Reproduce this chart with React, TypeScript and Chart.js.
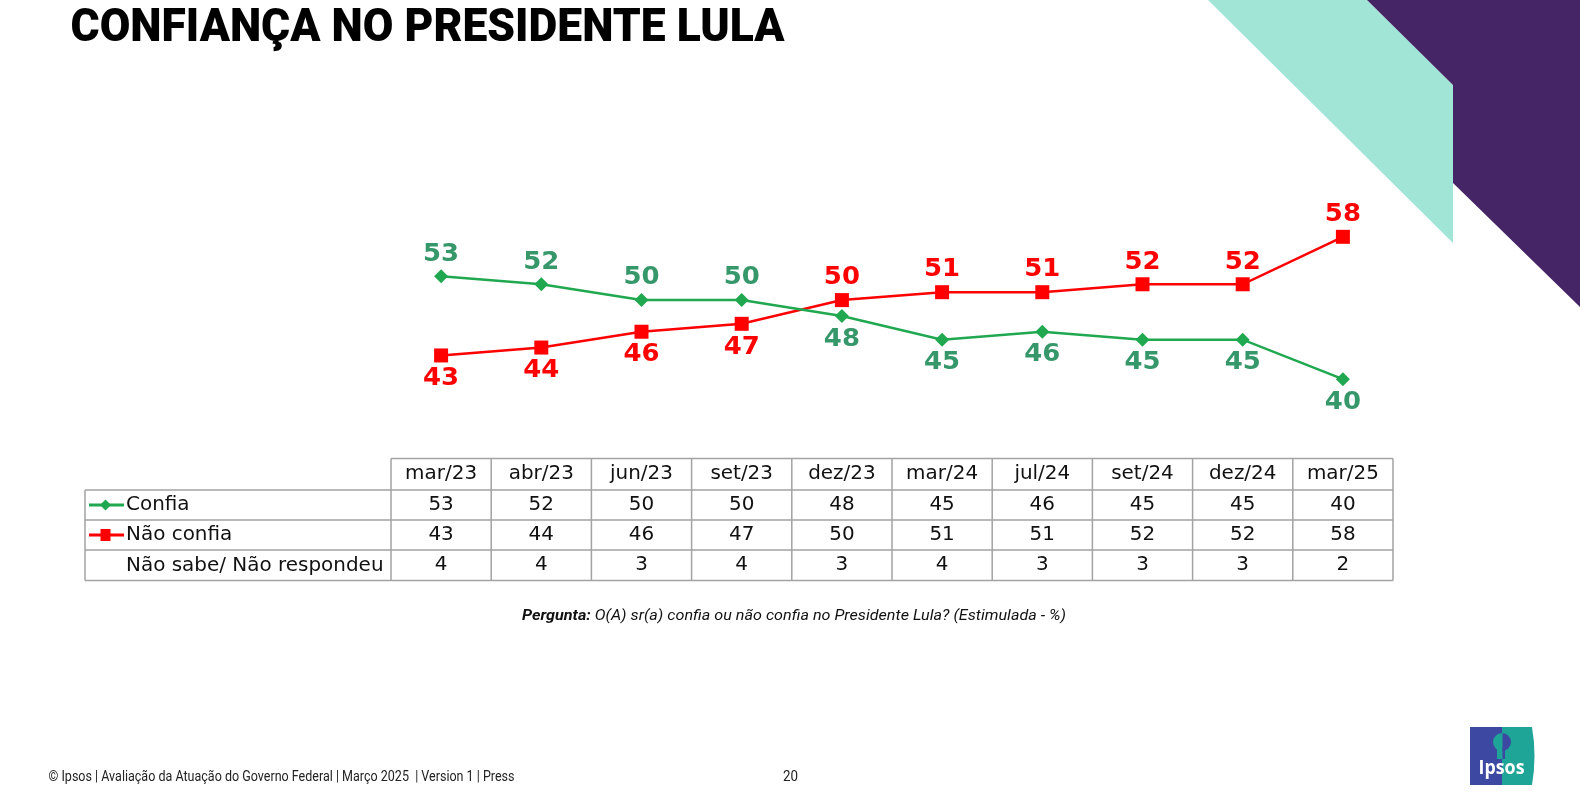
import React, { useEffect, useRef } from "react";
import { Chart, registerables } from "chart.js";

Chart.register(...registerables);

const months = ["mar/23", "abr/23", "jun/23", "set/23", "dez/23", "mar/24", "jul/24", "set/24", "dez/24", "mar/25"];
const confia = [53, 52, 50, 50, 48, 45, 46, 45, 45, 40];
const naoConfia = [43, 44, 46, 47, 50, 51, 51, 52, 52, 58];
const naoSabe = [4, 4, 3, 4, 3, 4, 3, 3, 3, 2];
const seriesNames = ["Confia", "Não confia", "Não sabe/ Não respondeu"];

const titleText = "CONFIANÇA NO PRESIDENTE LULA";
const questionBold = "Pergunta:";
const questionRest = " O(A) sr(a) confia ou não confia no Presidente Lula? (Estimulada - %)";
const footerText = "© Ipsos | Avaliação da Atuação do Governo Federal | Março 2025  | Version 1 | Press";
const pageNumber = "20";

const GREEN_LINE = "#1fa84f";
const GREEN_LABEL = "#35976a";
const RED = "#ff0000";
const W = 1580;
const H = 807;

function fitText(ctx: CanvasRenderingContext2D, text: string, x: number, y: number, width: number) {
  const w = ctx.measureText(text).width;
  const s = width / w;
  ctx.save();
  ctx.translate(x, y);
  ctx.scale(s, 1);
  ctx.textAlign = "left";
  ctx.fillText(text, 0, 0);
  ctx.restore();
}

function scaledText(ctx: CanvasRenderingContext2D, text: string, x: number, y: number, sx: number, align: "left" | "center") {
  ctx.save();
  ctx.translate(x, y);
  ctx.scale(sx, 1);
  ctx.textAlign = align;
  ctx.fillText(text, 0, 0);
  ctx.restore();
}

const pagePlugin = {
  id: "page",
  beforeDraw(chart: any) {
    const ctx: CanvasRenderingContext2D = chart.ctx;
    ctx.save();
    ctx.fillStyle = "#ffffff";
    ctx.fillRect(0, 0, W, H);
    // mint band
    ctx.fillStyle = "#a1e5d7";
    ctx.beginPath();
    ctx.moveTo(1208, 0);
    ctx.lineTo(1367, 0);
    ctx.lineTo(1453, 85);
    ctx.lineTo(1453, 243);
    ctx.closePath();
    ctx.fill();
    // purple shape
    ctx.fillStyle = "#462567";
    ctx.beginPath();
    ctx.moveTo(1367, 0);
    ctx.lineTo(1580, 0);
    ctx.lineTo(1580, 307);
    ctx.lineTo(1453, 183);
    ctx.lineTo(1453, 85);
    ctx.closePath();
    ctx.fill();
    ctx.restore();
  },
  afterDraw(chart: any) {
    const ctx: CanvasRenderingContext2D = chart.ctx;
    const xs = chart.scales.x;
    ctx.save();

    // data labels
    ctx.font = "bold 24px 'DejaVu Sans'";
    ctx.textBaseline = "middle";
    const sets = [confia, naoConfia];
    sets.forEach((vals, di) => {
      const meta = chart.getDatasetMeta(di);
      const other = sets[1 - di];
      ctx.fillStyle = di === 0 ? GREEN_LABEL : RED;
      meta.data.forEach((pt: any, j: number) => {
        const above = vals[j] > other[j];
        const y = above ? pt.y - 22 : pt.y + 23.5;
        scaledText(ctx, String(vals[j]), pt.x, y, 1.08, "center");
      });
    });

    // table
    const step = xs.getPixelForValue(1) - xs.getPixelForValue(0);
    const colLeft = xs.getPixelForValue(0) - step / 2;
    const colRight = xs.getPixelForValue(months.length - 1) + step / 2;
    const tableLeft = 85;
    const rowsY = [458.5, 490, 520, 550, 580.5];
    ctx.strokeStyle = "#a3a3a3";
    ctx.lineWidth = 1.5;
    ctx.beginPath();
    ctx.moveTo(colLeft, rowsY[0]);
    ctx.lineTo(colRight, rowsY[0]);
    for (let r = 1; r < rowsY.length; r++) {
      ctx.moveTo(tableLeft, rowsY[r]);
      ctx.lineTo(colRight, rowsY[r]);
    }
    ctx.moveTo(tableLeft, rowsY[1]);
    ctx.lineTo(tableLeft, rowsY[4]);
    for (let i = 0; i <= months.length; i++) {
      const x = colLeft + i * step;
      ctx.moveTo(x, rowsY[0]);
      ctx.lineTo(x, rowsY[4]);
    }
    ctx.stroke();

    ctx.fillStyle = "#111111";
    ctx.font = "19px 'DejaVu Sans'";
    ctx.textBaseline = "middle";
    const rowVals = [confia, naoConfia, naoSabe];
    months.forEach((m, i) => {
      const cx = xs.getPixelForValue(i);
      scaledText(ctx, m, cx, (rowsY[0] + rowsY[1]) / 2, 1.05, "center");
      rowVals.forEach((vals, r) => {
        scaledText(ctx, String(vals[i]), cx, (rowsY[r + 1] + rowsY[r + 2]) / 2, 1.05, "center");
      });
    });
    seriesNames.forEach((name, r) => {
      scaledText(ctx, name, 126, (rowsY[r + 1] + rowsY[r + 2]) / 2 + 0.5, 1.05, "left");
    });

    // legend markers in table
    const y1 = (rowsY[1] + rowsY[2]) / 2;
    ctx.strokeStyle = GREEN_LINE;
    ctx.lineWidth = 3;
    ctx.beginPath();
    ctx.moveTo(89, y1);
    ctx.lineTo(124, y1);
    ctx.stroke();
    ctx.fillStyle = GREEN_LINE;
    ctx.beginPath();
    ctx.moveTo(105.5, y1 - 5.5);
    ctx.lineTo(111, y1);
    ctx.lineTo(105.5, y1 + 5.5);
    ctx.lineTo(100, y1);
    ctx.closePath();
    ctx.fill();
    const y2 = (rowsY[2] + rowsY[3]) / 2;
    ctx.strokeStyle = RED;
    ctx.beginPath();
    ctx.moveTo(89, y2);
    ctx.lineTo(124, y2);
    ctx.stroke();
    ctx.fillStyle = RED;
    ctx.fillRect(100.5, y2 - 6, 10, 12);

    // title
    ctx.fillStyle = "#000000";
    ctx.textBaseline = "alphabetic";
    ctx.font = "900 46px Roboto";
    fitText(ctx, titleText, 70.5, 41, 714);

    // question
    ctx.fillStyle = "#111111";
    ctx.font = "italic bold 15px Roboto";
    const wb = ctx.measureText(questionBold).width;
    ctx.font = "italic 15px Roboto";
    const wr = ctx.measureText(questionRest).width;
    const qs = 544 / (wb + wr);
    ctx.save();
    ctx.translate(522, 620);
    ctx.scale(qs, 1);
    ctx.textAlign = "left";
    ctx.font = "italic bold 15px Roboto";
    ctx.fillText(questionBold, 0, 0);
    ctx.font = "italic 15px Roboto";
    ctx.fillText(questionRest, wb, 0);
    ctx.restore();

    // footer
    ctx.fillStyle = "#222222";
    ctx.font = "14px Roboto";
    fitText(ctx, footerText, 48.5, 781, 466);
    fitText(ctx, pageNumber, 783, 781, 15);

    // logo
    const lx = 1470, ly = 727, lw = 65, lh = 58;
    ctx.fillStyle = "#3d48a2";
    ctx.fillRect(lx, ly, 33, lh);
    ctx.fillStyle = "#1ea597";
    ctx.beginPath();
    ctx.moveTo(lx + 32, ly);
    ctx.lineTo(lx + lw - 3, ly);
    ctx.quadraticCurveTo(lx + lw + 2, ly + lh / 2, lx + lw - 3, ly + lh);
    ctx.lineTo(lx + 32, ly + lh);
    ctx.closePath();
    ctx.fill();
    // head silhouette
    ctx.save();
    ctx.beginPath();
    ctx.rect(lx, ly, 32.5, lh);
    ctx.clip();
    ctx.fillStyle = "#1ea597";
    ctx.beginPath();
    ctx.arc(lx + 32, ly + 15, 9, 0, Math.PI * 2);
    ctx.fill();
    ctx.fillRect(lx + 27, ly + 20, 10, 12);
    ctx.restore();
    ctx.save();
    ctx.beginPath();
    ctx.rect(lx + 32.5, ly, 20, lh);
    ctx.clip();
    ctx.fillStyle = "#3d48a2";
    ctx.beginPath();
    ctx.arc(lx + 32, ly + 15, 9, 0, Math.PI * 2);
    ctx.fill();
    ctx.fillRect(lx + 27, ly + 20, 8, 12);
    ctx.restore();
    ctx.fillStyle = "#ffffff";
    ctx.font = "bold 19px 'Open Sans'";
    fitText(ctx, "Ipsos", lx + 8.5, ly + 47, 46);

    ctx.restore();
  },
};

export default function App() {
  const ref = useRef<HTMLCanvasElement>(null);
  useEffect(() => {
    if (!ref.current) return;
    const chart = new Chart(ref.current, {
      type: "line",
      data: {
        labels: months,
        datasets: [
          {
            label: seriesNames[0],
            data: confia,
            borderColor: GREEN_LINE,
            backgroundColor: GREEN_LINE,
            borderWidth: 2.5,
            pointStyle: "rectRot",
            pointRadius: 7,
            pointBackgroundColor: GREEN_LINE,
            pointBorderColor: GREEN_LINE,
            pointBorderWidth: 0,
            tension: 0,
          },
          {
            label: seriesNames[1],
            data: naoConfia,
            borderColor: RED,
            backgroundColor: RED,
            borderWidth: 2.5,
            pointStyle: "rect",
            pointRadius: 9.9,
            pointBackgroundColor: RED,
            pointBorderColor: RED,
            pointBorderWidth: 0,
            tension: 0,
          },
        ],
      },
      options: {
        responsive: false,
        animation: false,
        devicePixelRatio: 1,
        layout: { padding: { left: 391, right: 187, top: 221, bottom: 412 } },
        plugins: { legend: { display: false }, tooltip: { enabled: false } },
        scales: {
          x: { display: false, offset: true },
          y: { display: false, min: 38, max: 60 },
        },
      },
      plugins: [pagePlugin],
    });
    return () => chart.destroy();
  }, []);
  return (
    <canvas
      ref={ref}
      width={W}
      height={H}
      style={{ position: "fixed", left: 0, top: 0, width: W, height: H }}
    />
  );
}
